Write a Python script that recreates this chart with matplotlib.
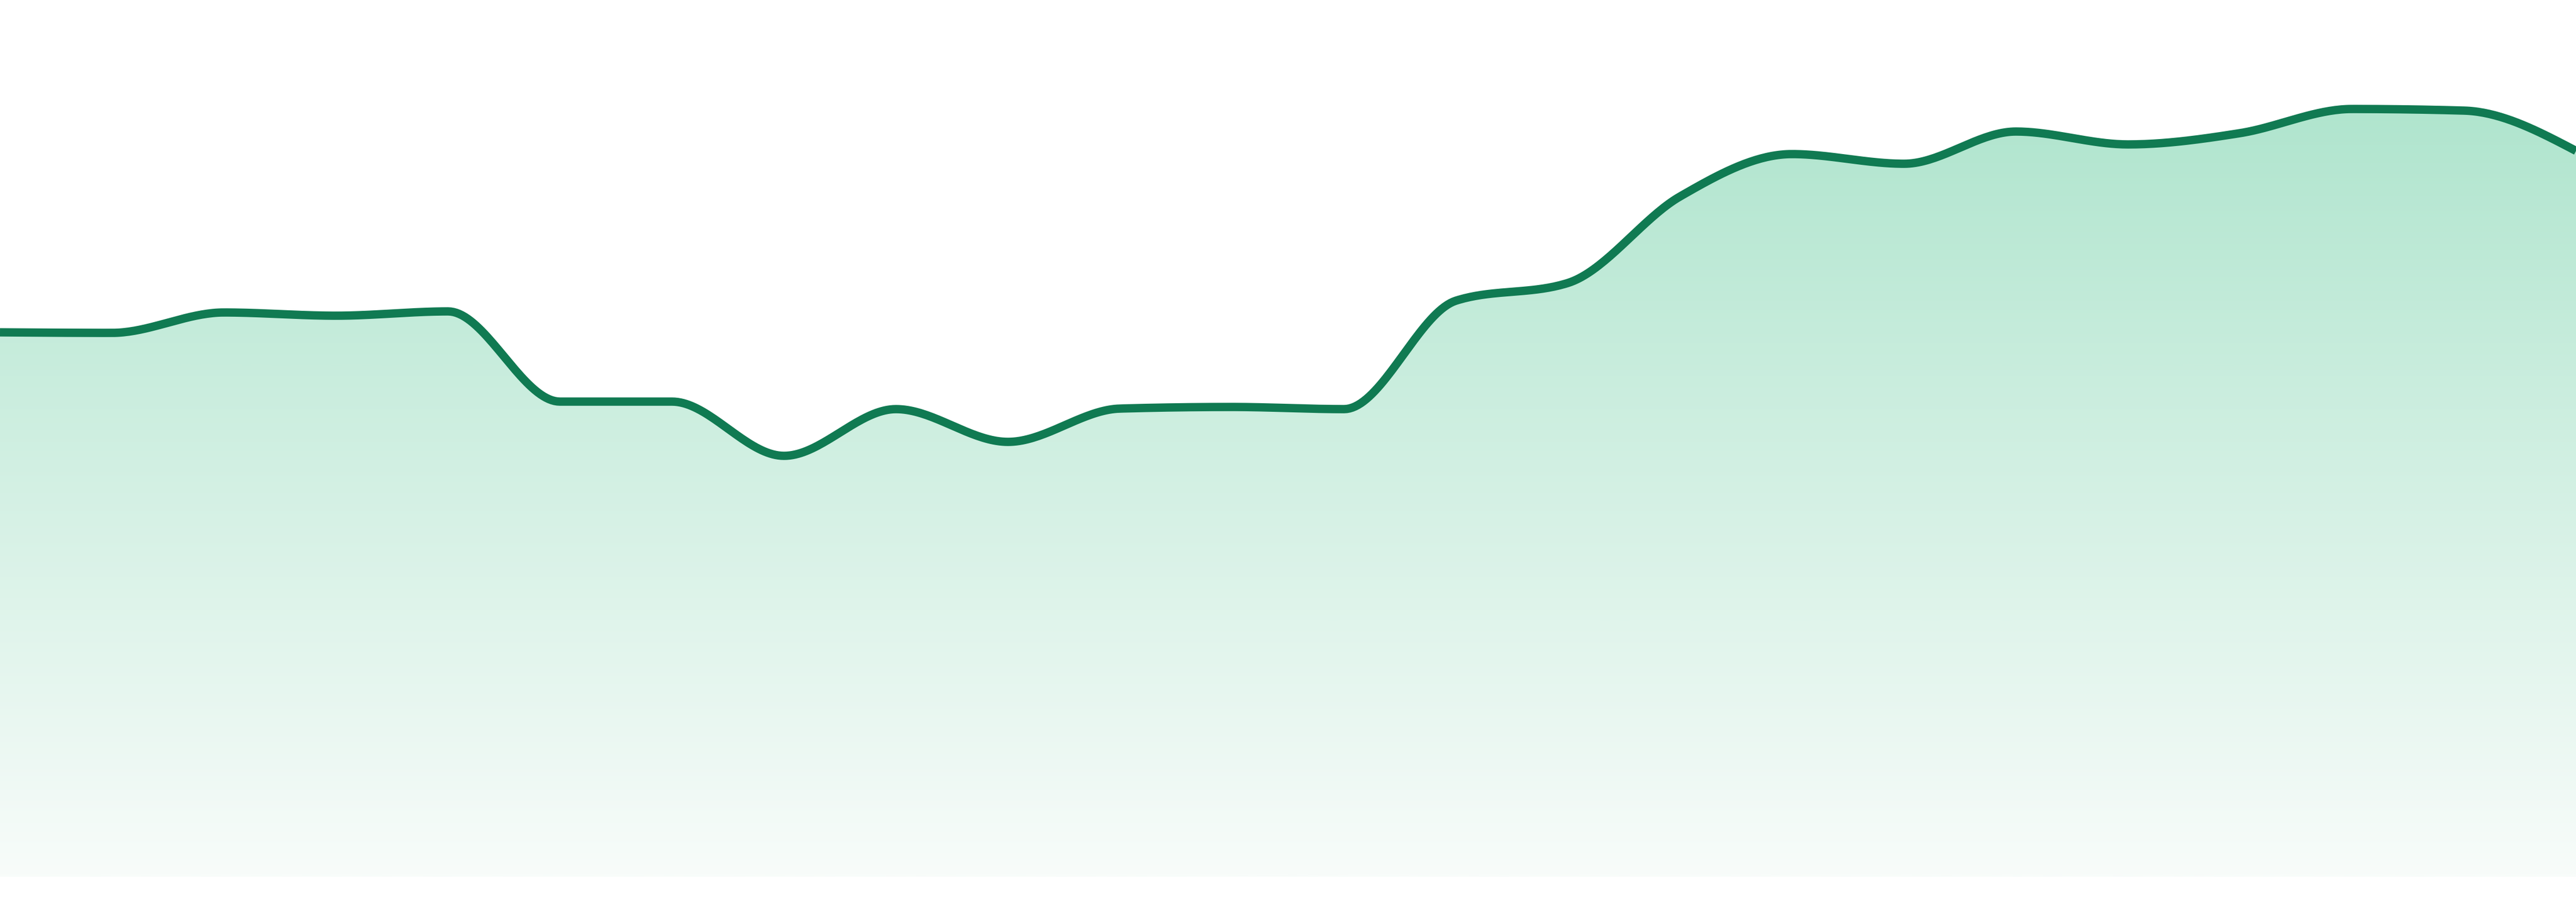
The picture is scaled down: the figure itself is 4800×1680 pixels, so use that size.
import numpy as np
import matplotlib
matplotlib.use("Agg")
import matplotlib.pyplot as plt
from matplotlib.colors import LinearSegmentedColormap

# values (24 evenly spaced points)
steps = list(range(24))
values = [101.4, 101.3, 105.1, 104.5, 105.3, 88.5, 88.5, 78.4, 87.1, 81.0,
          87.2, 87.5, 87.1, 107.3, 110.6, 126.7, 134.6, 132.8, 138.8, 136.4,
          138.5, 143.0, 142.7, 135.2]

line_color = "#107a52"
fill_top = "#b0e5ce"
fill_bottom = "#f8fcfa"


def monotone_x(x, y, n=40):
    # d3 style monotone cubic interpolation
    x = np.asarray(x, float)
    y = np.asarray(y, float)
    h = np.diff(x)
    s = np.diff(y) / h
    t = np.zeros_like(y)
    for i in range(1, len(y) - 1):
        p = (s[i - 1] * h[i] + s[i] * h[i - 1]) / (h[i - 1] + h[i])
        t[i] = (np.sign(s[i - 1]) + np.sign(s[i])) * min(abs(s[i - 1]), abs(s[i]), 0.5 * abs(p))
    t[0] = (3 * s[0] - t[1]) / 2
    t[-1] = (3 * s[-1] - t[-2]) / 2
    xs, ys = [], []
    for i in range(len(x) - 1):
        u = np.linspace(0, 1, n, endpoint=False)
        h00 = 2 * u**3 - 3 * u**2 + 1
        h10 = u**3 - 2 * u**2 + u
        h01 = -2 * u**3 + 3 * u**2
        h11 = u**3 - u**2
        xs.append(x[i] + u * h[i])
        ys.append(h00 * y[i] + h10 * h[i] * t[i] + h01 * y[i + 1] + h11 * h[i] * t[i + 1])
    xs.append([x[-1]])
    ys.append([y[-1]])
    return np.concatenate(xs), np.concatenate(ys)


xs, ys = monotone_x(steps, values)

fig = plt.figure(figsize=(48, 16.8), dpi=100)
ax = fig.add_axes([0, 0, 1, 1])
ax.set_xlim(0, 23)
# baseline sits 47 px above the bottom edge, top of figure = 163.3
ax.set_ylim(-4.7, 163.3)
ax.axis("off")

poly = ax.fill_between(xs, ys, 0, color="none", lw=0)
cmap = LinearSegmentedColormap.from_list("g", [fill_bottom, fill_top])
grad = np.linspace(0, 1, 512).reshape(-1, 1)
img = ax.imshow(grad, cmap=cmap, aspect="auto", origin="lower",
                extent=[0, 23, 0, max(values)], zorder=1)
img.set_clip_path(poly.get_paths()[0], transform=ax.transData)

ax.plot(xs, ys, color=line_color, lw=11.2, solid_capstyle="butt", zorder=2)

fig.savefig("out.png", dpi=100, facecolor="white")
